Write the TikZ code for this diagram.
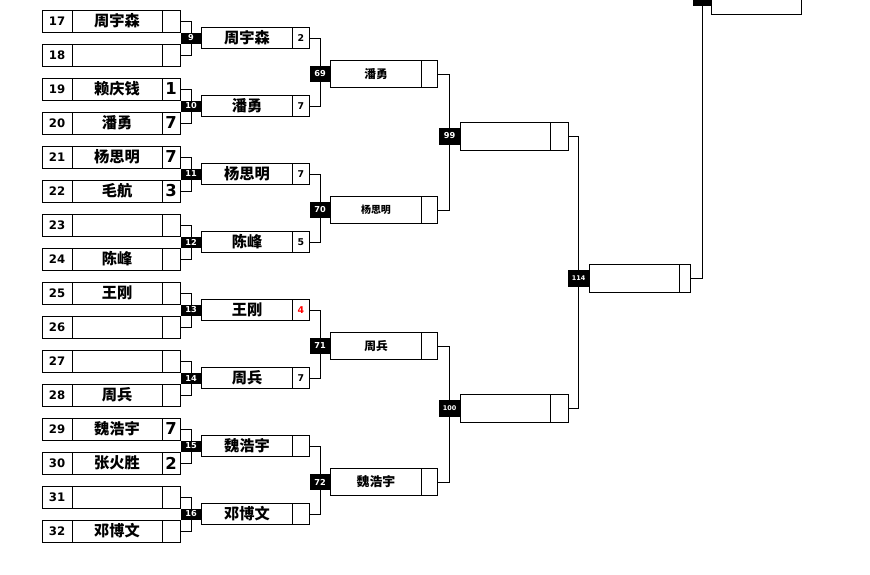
\documentclass[tikz,border=0pt]{standalone}
\usepackage{fontspec}
\setmainfont{DejaVu Sans}
\newfontfamily\cjk{Noto Sans CJK SC}
\usetikzlibrary{positioning}

\tikzset{
  cell/.style={draw, line width=0.8pt, inner sep=0pt, outer sep=0pt},
  seedcell/.style={cell, minimum width=9mm, minimum height=6.6mm, font=\bfseries\fontsize{10}{10}\selectfont},
  namecell/.style={cell, minimum width=27mm, minimum height=6.6mm, font=\cjk\bfseries\fontsize{13}{13}\selectfont},
  scorecell/.style={cell, minimum width=5.4mm, minimum height=6.6mm, font=\bfseries\fontsize{14}{14}\selectfont},
  smallscore/.style={cell, font=\bfseries\fontsize{8}{8}\selectfont},
  matchno/.style={fill=black, text=white, inner sep=0pt, outer sep=0pt, minimum width=6.3mm, minimum height=5.1mm, font=\bfseries\fontsize{7}{7}\selectfont},
  bigno/.style={matchno, font=\bfseries\fontsize{5.5}{5.5}\selectfont},
  link/.style={line width=0.8pt},
}

\begin{document}
\begin{tikzpicture}[x=0.03cm, y=-0.03cm]
    % 1. 显示区域
    \useasboundingbox (0,0) rectangle (870,574);
    \clip (0,0) rectangle (870,574);

    % 2. 第一轮：种子号、姓名、比分
    \foreach \seed/\who/\pts [count=\k from 0] in {17/周宇森/, 18//, 19/赖庆钱/1, 20/潘勇/7,
        21/杨思明/7, 22/毛航/3, 23//, 24/陈峰/, 25/王刚/, 26//, 27//, 28/周兵/,
        29/魏浩宇/7, 30/张火胜/2, 31//, 32/邓博文/}
    {
        \node[seedcell] (n\seed) at (57, {21+34*\k}) {\seed};
        \node[namecell, right=0pt of n\seed] (p\seed) {\who};
        \node[scorecell, right=0pt of p\seed] (s\seed) {\pts};
    }

    % 3. 第二轮 (9--16)
    \foreach \m/\a/\b/\who/\pts [count=\j from 0] in {9/17/18/周宇森/2, 10/19/20/潘勇/7,
        11/21/22/杨思明/7, 12/23/24/陈峰/5, 13/25/26/王刚/{\color{red}4}, 14/27/28/周兵/7,
        15/29/30/魏浩宇/, 16/31/32/邓博文/}
    {
        \node[matchno, minimum height=3.3mm] (m\m) at (191, {38+68*\j}) {\m};
        \node[namecell, minimum width=27.3mm, minimum height=6.3mm, right=0pt of m\m] (p\m) {\who};
        \node[smallscore, minimum width=5.1mm, minimum height=6.3mm, right=0pt of p\m] (s\m) {\pts};
        \draw[link] (s\a.east) -| (m\m.north);
        \draw[link] (s\b.east) -| (m\m.south);
    }

    % 4. 第三轮 (69--72)
    \foreach \m/\a/\b/\who/\fs [count=\i from 0] in {69/9/10/潘勇/10, 70/11/12/杨思明/8.5,
        71/13/14/周兵/10, 72/15/16/魏浩宇/11}
    {
        \node[matchno, minimum height=4.8mm] (m\m) at (320, {74+136*\i}) {\m};
        \node[cell, minimum width=27.3mm, minimum height=8.1mm, right=0pt of m\m,
              font=\cjk\bfseries\fontsize{\fs}{\fs}\selectfont] (p\m) {\who};
        \node[cell, minimum width=4.8mm, minimum height=8.1mm, right=0pt of p\m] (s\m) {};
        \draw[link] (s\a.east) -| (m\m.north);
        \draw[link] (s\b.east) -| (m\m.south);
    }

    % 5. 第四轮 (99, 100)
    \node[matchno] (m99) at (449.5, 136) {99};
    \node[bigno] (m100) at (449.5, 408) {100};
    \foreach \m/\a/\b in {99/69/70, 100/71/72}
    {
        \node[cell, minimum width=27mm, minimum height=8.4mm, right=0pt of m\m] (p\m) {};
        \node[cell, minimum width=5.4mm, minimum height=8.4mm, right=0pt of p\m] (s\m) {};
        \draw[link] (s\a.east) -| (m\m.north);
        \draw[link] (s\b.east) -| (m\m.south);
    }

    % 6. 第五轮 (114)
    \node[bigno] (m114) at (578.5, 278) {114};
    \node[cell, minimum width=27mm, minimum height=8.4mm, right=0pt of m114] (p114) {};
    \node[cell, minimum width=3.3mm, minimum height=8.4mm, right=0pt of p114] (s114) {};
    \draw[link] (s99.east) -| (m114.north);
    \draw[link] (s100.east) -| (m114.south);

    % 7. 第六轮 (121)，只露出下半部分
    \node[bigno, minimum width=5.4mm] (m121) at (702, -3) {121};
    \node[cell, minimum width=27mm, minimum height=8.4mm, right=0pt of m121, yshift=-0.09cm] (p121) {};
    \draw[link] (s114.east) -| (m121.south);
\end{tikzpicture}
\end{document}
